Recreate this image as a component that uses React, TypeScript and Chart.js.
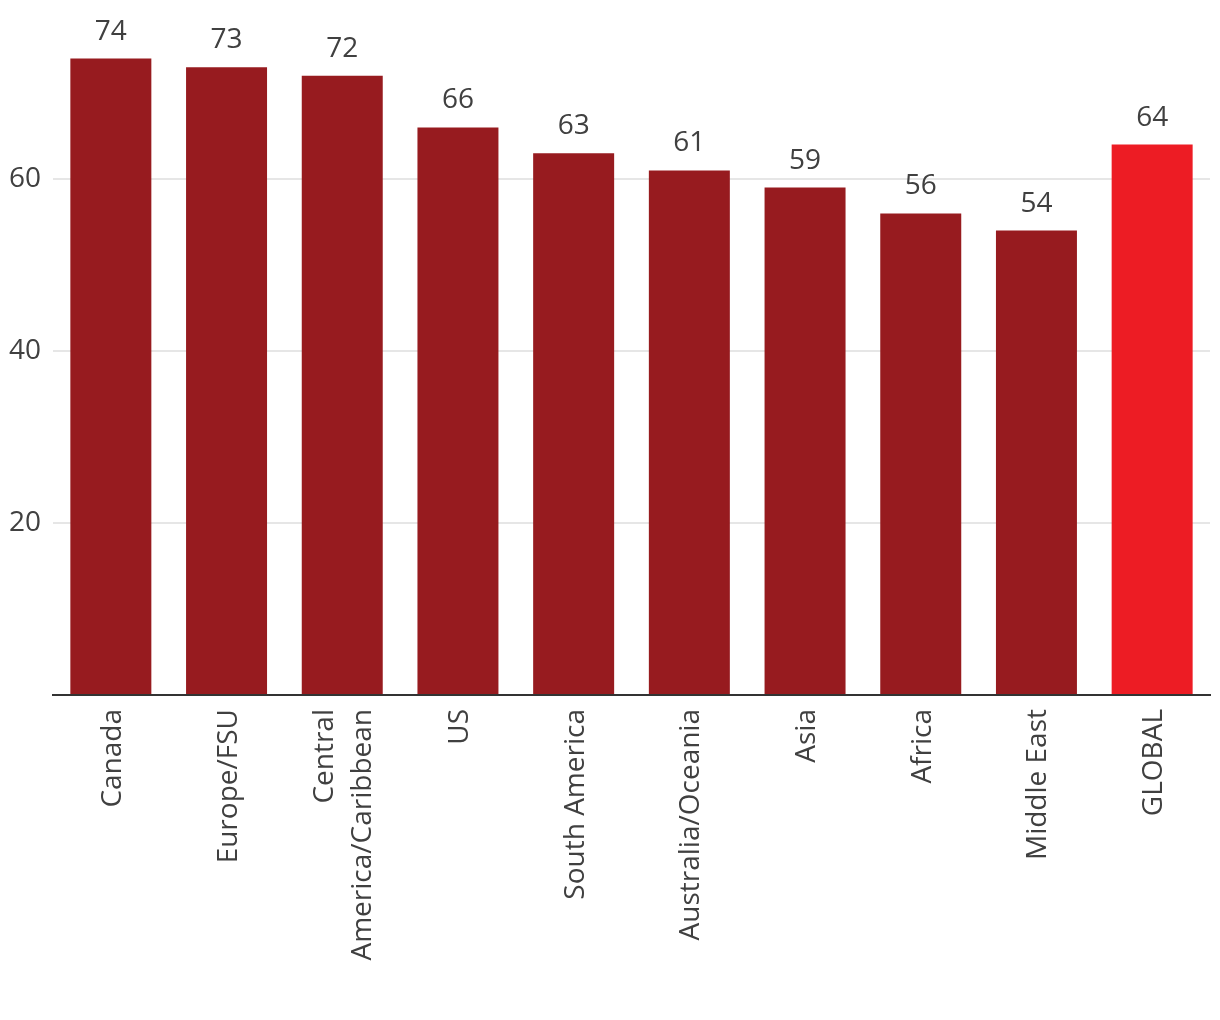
import React, { useEffect, useRef } from "react";
import { Chart, registerables } from "chart.js";

Chart.register(...registerables);

const categories: (string | string[])[] = [
  "Canada",
  "Europe/FSU",
  ["Central", "America/Caribbean"],
  "US",
  "South America",
  "Australia/Oceania",
  "Asia",
  "Africa",
  "Middle East",
  "GLOBAL",
];
const values: number[] = [74, 73, 72, 66, 63, 61, 59, 56, 54, 64];
const barColors: string[] = [
  "#971B1F", "#971B1F", "#971B1F", "#971B1F", "#971B1F",
  "#971B1F", "#971B1F", "#971B1F", "#971B1F", "#ED1C24",
];
const yTicks: number[] = [20, 40, 60];

const FONT = "'Open Sans', sans-serif";
const TEXT = "#404040";
const FS = 28;
const LINE_GAP = 38;

const valueLabels = {
  id: "valueLabels",
  afterDatasetsDraw(chart: any) {
    const ctx = chart.ctx;
    const meta = chart.getDatasetMeta(0);
    ctx.save();
    ctx.font = `${FS}px ${FONT}`;
    ctx.fillStyle = TEXT;
    ctx.textAlign = "center";
    ctx.textBaseline = "bottom";
    meta.data.forEach((bar: any, i: number) => {
      ctx.fillText(String(values[i]), bar.x, bar.y - 13);
    });
    ctx.restore();
  },
};

const categoryLabels = {
  id: "categoryLabels",
  afterDraw(chart: any) {
    const ctx = chart.ctx;
    const xs = chart.scales.x;
    ctx.save();
    ctx.font = `${FS}px ${FONT}`;
    ctx.fillStyle = TEXT;
    ctx.textAlign = "right";
    ctx.textBaseline = "middle";
    categories.forEach((lab, i) => {
      const lines = Array.isArray(lab) ? lab : [lab];
      const px = xs.getPixelForTick(i) + 2;
      lines.forEach((line, j) => {
        const off = (j - (lines.length - 1) / 2) * LINE_GAP;
        ctx.save();
        ctx.translate(px + off, xs.top + 14);
        ctx.rotate(-Math.PI / 2);
        ctx.fillText(line, 0, 0);
        ctx.restore();
      });
    });
    ctx.restore();
  },
};

export default function App() {
  const ref = useRef<HTMLCanvasElement | null>(null);
  useEffect(() => {
    if (!ref.current) return;
    const chart = new Chart(ref.current, {
      type: "bar",
      data: {
        labels: categories,
        datasets: [
          {
            data: values,
            backgroundColor: barColors,
            barPercentage: 0.7,
            categoryPercentage: 1,
          },
        ],
      },
      options: {
        animation: false,
        responsive: false,
        maintainAspectRatio: false,
        layout: { padding: { top: 7, right: 10, bottom: 0, left: 0 } },
        plugins: {
          legend: { display: false },
          tooltip: { enabled: false },
        },
        scales: {
          x: {
            grid: { display: false, drawTicks: false },
            border: { display: true, color: "#333333", width: 2 },
            ticks: { display: false },
            afterFit(scale: any) {
              scale.height = 325;
              scale.paddingLeft = 0;
              scale.paddingRight = 0;
            },
          },
          y: {
            min: 0,
            max: 80,
            afterBuildTicks(scale: any) {
              scale.ticks = [0, ...yTicks, 80].map((v) => ({ value: v }));
            },
            grid: {
              drawTicks: false,
              color: (c: any) =>
                c.tick && yTicks.includes(c.tick.value) ? "#E6E6E6" : "rgba(0,0,0,0)",
              lineWidth: 2,
            },
            border: { display: false },
            ticks: {
              color: TEXT,
              font: { family: FONT, size: FS },
              padding: 12,
              callback: (v: any) => (yTicks.includes(Number(v)) ? String(v) : ""),
            },
            afterFit(scale: any) {
              scale.width = 53;
              scale.paddingTop = 0;
              scale.paddingBottom = 0;
            },
          },
        },
      },
      plugins: [valueLabels, categoryLabels],
    });
    return () => chart.destroy();
  }, []);
  return (
    <div style={{ position: "fixed", left: 0, top: 0, width: 1220, height: 1020, background: "#fff" }}>
      <canvas ref={ref} width={1220} height={1020} style={{ width: 1220, height: 1020, display: "block" }} />
    </div>
  );
}
